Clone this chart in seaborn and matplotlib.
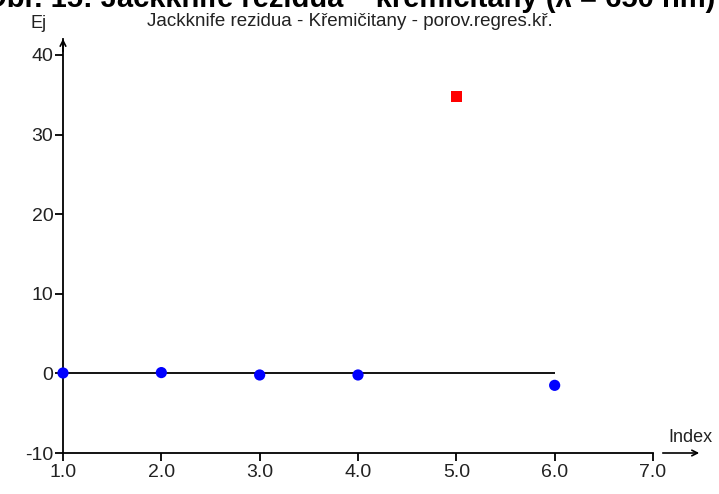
import matplotlib
matplotlib.use("Agg")
import matplotlib.pyplot as plt
import seaborn as sns
import pandas as pd

# Jackknife residuals per observation index
index = [1, 2, 3, 4, 5, 6]
residuals = [0.05, 0.1, -0.2, -0.2, 34.8, -1.5]
outlier = [False, False, False, False, True, False]

y_ticks = [-10, 0, 10, 20, 30, 40]
x_ticks = [1, 2, 3, 4, 5, 6, 7]
x_tick_labels = ["1.0", "2.0", "3.0", "4.0", "5.0", "6.0", "7.0"]

df = pd.DataFrame({"Index": index, "Ej": residuals, "outlier": outlier})

sns.set_style("white")
plt.rcParams["font.family"] = ["Liberation Sans", "DejaVu Sans"]
plt.rcParams["axes.unicode_minus"] = False

fig = plt.figure(figsize=(7.19, 4.94), dpi=100)
ax = fig.add_axes([63 / 719, 41 / 494, 590 / 719, 414 / 494])

# zero reference line across the observed indices
ax.hlines(0, min(index), max(index), color="black", lw=1.3, zorder=1)

sns.scatterplot(data=df[~df["outlier"]], x="Index", y="Ej", color="#0000ff",
                marker="o", s=65, edgecolor="none", ax=ax, zorder=3, clip_on=False)
sns.scatterplot(data=df[df["outlier"]], x="Index", y="Ej", color="#ff0000",
                marker="s", s=60, edgecolor="none", ax=ax, zorder=3, clip_on=False)

ax.set_xlim(1, 7)
ax.set_ylim(-10, 42)
ax.set_xticks(x_ticks)
ax.set_xticklabels(x_tick_labels)
ax.set_yticks(y_ticks)
ax.set_xlabel("")
ax.set_ylabel("")

for side in ("top", "right"):
    ax.spines[side].set_visible(False)
for side in ("left", "bottom"):
    ax.spines[side].set_color("black")
    ax.spines[side].set_linewidth(1.3)

ax.tick_params(axis="both", which="major", direction="out", length=6, width=1.3,
               color="black", labelsize=14, labelcolor="#222222")
ax.tick_params(axis="x", pad=2)
ax.tick_params(axis="y", pad=1)
ax.tick_params(left=True, bottom=True)

# axis arrows
ax.annotate("", xy=(63 / 719, 458 / 494), xytext=(63 / 719, 440 / 494),
            xycoords="figure fraction",
            arrowprops=dict(arrowstyle="->", lw=1.2, color="black"))
ax.annotate("", xy=(702 / 719, 41 / 494), xytext=(660 / 719, 41 / 494),
            xycoords="figure fraction",
            arrowprops=dict(arrowstyle="->", lw=1.2, color="black"))

fig.text(30 / 719, 1 - 23 / 494, "Ej", fontsize=13, ha="left", va="center", color="#222222")
fig.text(690 / 719, 1 - 437 / 494, "Index", fontsize=13, ha="center", va="center", color="#222222")
fig.text(350 / 719, 1 - 21 / 494, "Jackknife rezidua - Křemičitany - porov.regres.kř.",
         fontsize=13.5, ha="center", va="center", color="#222222")
fig.text(715 / 719, 1 - 7 / 494, "Obr. 15: Jackknife rezidua – křemičitany (λ = 650 nm)",
         fontsize=21, fontweight="bold", ha="right", va="baseline", color="black")

fig.savefig("out.png", dpi=100)
